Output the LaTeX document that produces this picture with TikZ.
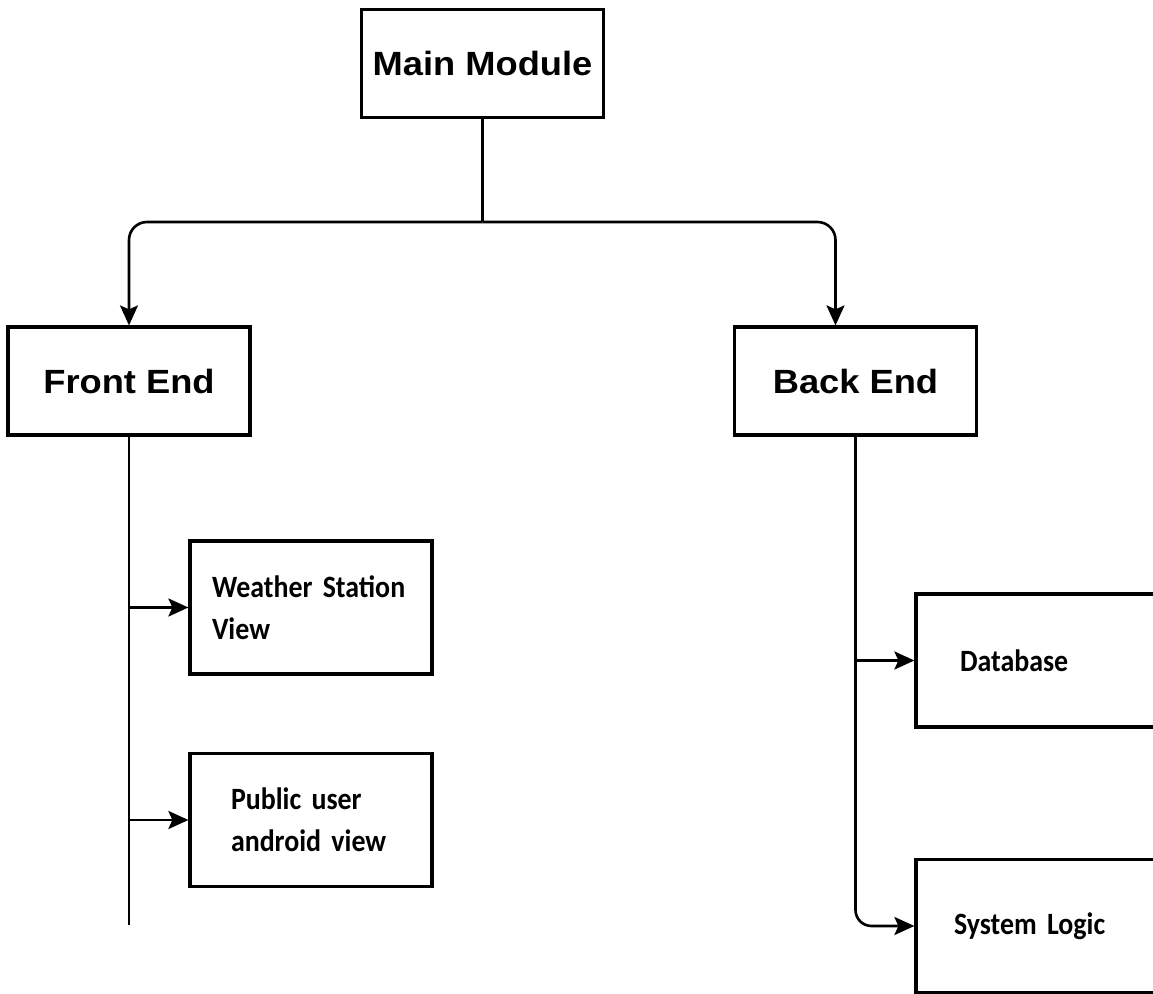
\documentclass[tikz,border=0pt]{standalone}
\usepackage{fontspec}
\usepackage{tikz}
\usetikzlibrary{arrows.meta}
\newfontfamily\topfont{Liberation Sans}[FakeStretch=1.08]
\newfontfamily\subface{Carlito}[FakeStretch=0.9]
\newcommand{\headtext}{\topfont\bfseries\fontsize{16.8pt}{20pt}\selectfont}
\newcommand{\subtext}{\subface\bfseries\fontsize{15.5pt}{21pt}\selectfont\spaceskip=3pt\relax}

\begin{document}
\begin{tikzpicture}[x=0.5pt,y=-0.5pt,
  top/.style={draw,line width=1.6pt,minimum width=121pt,minimum height=54pt,font=\headtext},
  sub/.style={draw,line width=1.6pt,minimum width=121pt,minimum height=66.5pt,align=left,font=\subtext},
  link/.style={line width=1.3pt},
  arrow/.style={link,-{Stealth[length=10pt,width=9pt,inset=2pt]}}]
\useasboundingbox (0,0) rectangle (1153,994);
\clip (0,0) rectangle (1153,994);
\node[top] (main) at (482.5,63.5) {Main Module};
\node[top] (front) at (129,381) {Front End};
\node[top] (back) at (855.5,381) {Back End};
\node[sub,text width=99pt] (weather) at (311,607.5) {Weather Station\\View};
\node[sub,text width=80pt] (public) at (311,820) {Public user\\android view};
\node[sub,minimum width=150pt,text width=106pt] (db) at (1066,660.5) {Database};
\node[sub,minimum width=150pt,text width=112pt] (logic) at (1066,926) {System Logic};
\coordinate (split) at (482.5,222);
\coordinate (frontend) at (129,925);
\draw[link] (main.south) -- (split);
\draw[arrow,rounded corners=9pt] (split) -| (front.north);
\draw[arrow,rounded corners=9pt] (split) -| ([xshift=-10pt]back.north);
\draw[link] (front.south) -- (frontend);
\draw[arrow] (front.south |- weather.west) -- (weather.west);
\draw[arrow] (front.south |- public.west) -- (public.west);
\draw[arrow] (back.south |- db.west) -- (db.west);
\draw[arrow,rounded corners=8pt] (back.south) |- (logic.west);
\end{tikzpicture}
\end{document}
